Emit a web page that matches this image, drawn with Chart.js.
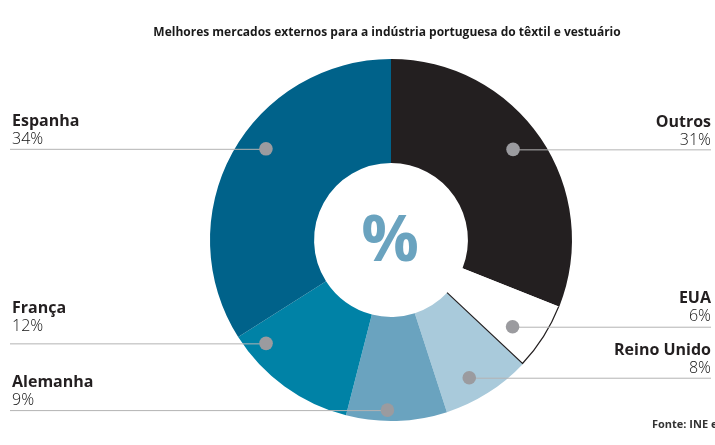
<!DOCTYPE html>
<html>
<head>
<meta charset="utf-8">
<script src="https://cdn.jsdelivr.net/npm/chart.js@4"></script>
<style>
  html, body { margin: 0; padding: 0; background: #fff; }
  #wrap { position: relative; width: 715px; height: 445px; }
</style>
</head>
<body>
<div id="wrap"><canvas id="chart" width="715" height="445"></canvas></div>
<script>
// Data
const categories = ['Outros', 'EUA', 'Reino Unido', 'Alemanha', 'França', 'Espanha'];
const shares = [31, 6, 8, 9, 12, 34];
const percentLabels = ['31%', '6%', '8%', '9%', '12%', '34%'];

const sliceColors = ['#231f20', '#ffffff', '#a9cadb', '#6aa3bf', '#0082a6', '#00628a'];
const TITLE = 'Melhores mercados externos para a indústria portuguesa do têxtil e vestuário';
const SOURCE = 'Fonte: INE e';
const FONT = '"Open Sans", "DejaVu Sans", sans-serif';

// where each callout dot sits inside its slice (angle shift in degrees, fraction of radius)
// and how far the percentage baseline sits above the leader line
const calloutLayout = [
  { shift: -2.4, r: 0.84, gap: 4 },
  { shift: 3.1, r: 0.825, gap: 6 },
  { shift: 2.8, r: 0.875, gap: 5 },
  { shift: 3.0, r: 0.94, gap: 5 },
  { shift: 14.4, r: 0.896, gap: 12 },
  { shift: 7.3, r: 0.855, gap: 5 }
];

const calloutPlugin = {
  id: 'callouts',
  afterDatasetsDraw(chart) {
    const ctx = chart.ctx;
    const arcs = chart.getDatasetMeta(0).data;
    const W = chart.width;
    ctx.save();

    // thin black outline of the white (EUA) slice
    const eua = arcs[1];
    ctx.strokeStyle = '#231f20';
    ctx.lineWidth = 1.2;
    ctx.beginPath();
    ctx.arc(eua.x, eua.y, eua.outerRadius - 0.6, eua.startAngle, eua.endAngle);
    ctx.lineTo(eua.x + eua.innerRadius * Math.cos(eua.endAngle), eua.y + eua.innerRadius * Math.sin(eua.endAngle));
    ctx.stroke();

    // dots, leader lines and labels
    arcs.forEach((arc, i) => {
      const lay = calloutLayout[i];
      const mid = (arc.startAngle + arc.endAngle) / 2 + lay.shift * Math.PI / 180;
      const r = arc.outerRadius * lay.r;
      const dx = arc.x + r * Math.cos(mid);
      const dy = arc.y + r * Math.sin(mid);
      const left = Math.cos(mid) < 0;

      ctx.strokeStyle = '#b3b3b3';
      ctx.lineWidth = 1;
      ctx.beginPath();
      if (left) {
        ctx.moveTo(10, dy + 0.5);
        ctx.lineTo(dx, dy + 0.5);
      } else {
        ctx.moveTo(dx, dy + 0.5);
        ctx.lineTo(W - 4, dy + 0.5);
      }
      ctx.stroke();

      ctx.fillStyle = '#9b9b9f';
      ctx.beginPath();
      ctx.arc(dx, dy, 6.8, 0, Math.PI * 2);
      ctx.fill();

      const tx = left ? 12 : W - 4;
      ctx.textAlign = left ? 'left' : 'right';
      ctx.textBaseline = 'alphabetic';
      const base = dy - lay.gap;
      ctx.fillStyle = '#111';
      ctx.font = '300 16px ' + FONT;
      ctx.fillText(percentLabels[i], tx, base);
      ctx.font = 'bold 16px ' + FONT;
      ctx.fillStyle = '#231f20';
      ctx.fillText(categories[i], tx, base - 18);
    });

    // centre symbol
    const c = arcs[0];
    ctx.fillStyle = '#6aa3bf';
    ctx.font = 'bold 64px ' + FONT;
    ctx.textAlign = 'center';
    ctx.textBaseline = 'middle';
    ctx.fillText('%', c.x - 1, c.y + 3);

    // title and source
    ctx.fillStyle = '#1a1a1a';
    ctx.font = 'bold 12px ' + FONT;
    ctx.textAlign = 'center';
    ctx.fillText(TITLE, 387, 33);
    ctx.fillStyle = '#333';
    ctx.font = 'bold 11px ' + FONT;
    ctx.textAlign = 'left';
    ctx.fillText(SOURCE, 652, 425);

    ctx.restore();
  }
};

new Chart(document.getElementById('chart'), {
  type: 'doughnut',
  data: {
    labels: categories,
    datasets: [{
      data: shares,
      backgroundColor: sliceColors,
      borderWidth: 0
    }]
  },
  options: {
    responsive: false,
    animation: false,
    events: [],
    cutout: '42.5%',
    layout: { padding: { left: 210, right: 143, top: 59, bottom: 24 } },
    plugins: {
      legend: { display: false },
      tooltip: { enabled: false },
      title: { display: false }
    }
  },
  plugins: [calloutPlugin]
});
</script>
</body>
</html>
